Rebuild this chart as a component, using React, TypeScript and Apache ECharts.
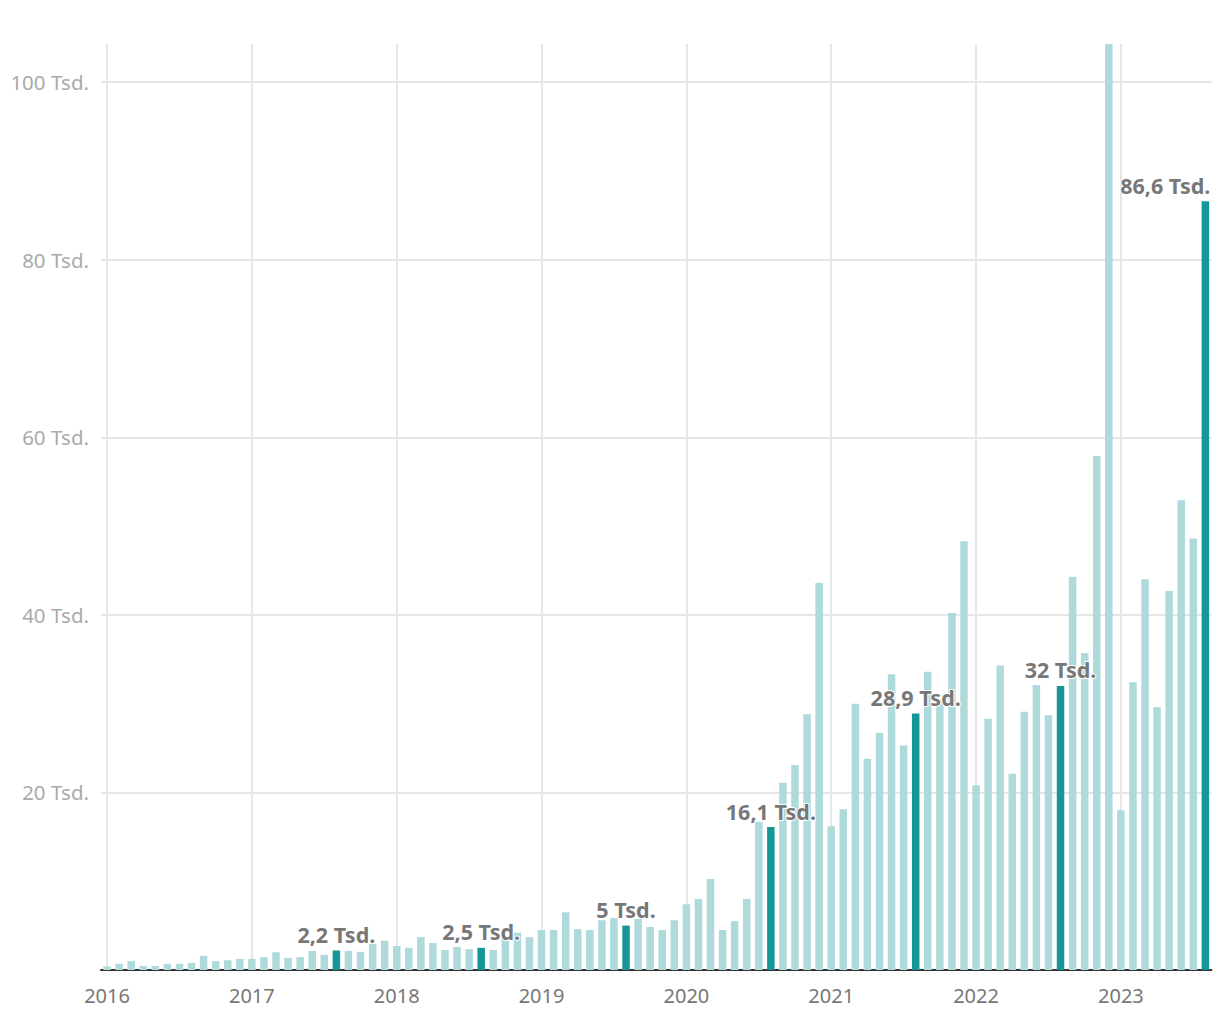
import React, { useEffect, useRef } from "react";
import * as echarts from "echarts";

const years = [2016, 2017, 2018, 2019, 2020, 2021, 2022, 2023];

const values2016 = [0.4, 0.7, 1.0, 0.45, 0.45, 0.7, 0.7, 0.8, 1.6, 1.0, 1.1, 1.25];
const values2017 = [1.25, 1.45, 2.0, 1.35, 1.45, 2.15, 1.7, 2.2, 2.15, 2.05, 2.95, 3.3];
const values2018 = [2.7, 2.5, 3.7, 3.05, 2.25, 2.6, 2.35, 2.5, 2.25, 3.7, 4.2, 3.7];
const values2019 = [4.5, 4.5, 6.5, 4.6, 4.5, 5.6, 5.85, 5.0, 5.75, 4.85, 4.5, 5.6];
const values2020 = [7.4, 8.0, 10.25, 4.5, 5.5, 8.0, 16.7, 16.1, 21.1, 23.1, 28.8, 43.6];
const values2021 = [16.2, 18.1, 30.0, 23.8, 26.7, 33.3, 25.3, 28.9, 33.6, 30.5, 40.2, 48.3];
const values2022 = [20.8, 28.3, 34.3, 22.1, 29.1, 32.1, 28.7, 32.0, 44.3, 35.7, 57.9, 110.0];
const values2023 = [18.0, 32.4, 44.0, 29.6, 42.7, 52.9, 48.6, 86.6];

const yTicks = [20, 40, 60, 80, 100];
const highlightMonth = 8; // August
const highlightYears = [2017, 2018, 2019, 2020, 2021, 2022, 2023];

const LIGHT = "#aedadb";
const DARK = "#159797";
const FONT = "Noto Sans";

const yearValues = [values2016, values2017, values2018, values2019, values2020, values2021, values2022, values2023];

export default function App() {
  const ref = useRef<HTMLDivElement>(null);

  useEffect(() => {
    if (!ref.current) return;
    const chart = echarts.init(ref.current, null, { renderer: "svg" });

    const categories: string[] = [];
    const values: number[] = [];
    const highlight: boolean[] = [];
    yearValues.forEach((arr, yi) => {
      arr.forEach((v, mi) => {
        categories.push(`${years[yi]}-${String(mi + 1).padStart(2, "0")}`);
        values.push(v);
        highlight.push(mi + 1 === highlightMonth && highlightYears.includes(years[yi]));
      });
    });
    const lastIndex = values.length - 1;

    const fmt = (v: number) => String(v).replace(".", ",") + " Tsd.";

    const data = values.map((v, i) => {
      const item: any = {
        value: v,
        itemStyle: { color: highlight[i] ? DARK : LIGHT },
      };
      if (highlight[i]) {
        item.label = {
          show: true,
          position: "top",
          distance: 5,
          formatter: fmt(v),
          color: "#777",
          fontWeight: "bold",
          fontSize: 21.5,
          fontFamily: FONT,
          textBorderColor: "#fff",
          textBorderWidth: 2,
        };
        if (i === lastIndex) {
          item.label.align = "right";
          item.label.offset = [5, 0];
        }
      }
      return item;
    });

    const gridLines: any[] = [
      ...years.map((y) => ({ xAxis: `${y}-01` })),
      ...yTicks.map((v) => ({ yAxis: v })),
    ];

    chart.setOption({
      animation: false,
      textStyle: { fontFamily: FONT },
      grid: { left: 101, right: 8.6, top: 44, bottom: 50, containLabel: false },
      xAxis: {
        type: "category",
        data: categories,
        boundaryGap: true,
        axisLine: { show: true, lineStyle: { color: "#333", width: 2 } },
        axisTick: { show: false },
        splitLine: { show: false },
        axisLabel: {
          interval: (i: number) => i % 12 === 0,
          formatter: (v: string) => v.slice(0, 4),
          color: "#777",
          fontSize: 20,
          fontFamily: FONT,
          margin: 15,
        },
      },
      yAxis: {
        type: "value",
        min: 0,
        max: 104.3,
        interval: 20,
        axisLine: { show: false },
        axisTick: { show: false },
        splitLine: { show: false },
        axisLabel: {
          formatter: (v: number) => (v > 0 && v % 20 === 0 ? `${v} Tsd.` : ""),
          color: "#aaa",
          fontSize: 20.5,
          fontFamily: FONT,
          margin: 12,
        },
      },
      series: [
        {
          type: "bar",
          data,
          barWidth: 7.5,
          z: 2,
          clip: true,
          emphasis: { disabled: true },
          markLine: {
            silent: true,
            z: 1,
            symbol: ["none", "none"],
            label: { show: false },
            emphasis: { disabled: true },
            lineStyle: { color: "#e6e6e6", width: 2, type: "solid" },
            data: gridLines,
          },
        },
      ],
    });

    return () => chart.dispose();
  }, []);

  return (
    <div
      ref={ref}
      style={{ position: "absolute", left: 0, top: 0, width: 1220, height: 1020, background: "#fff" }}
    />
  );
}
